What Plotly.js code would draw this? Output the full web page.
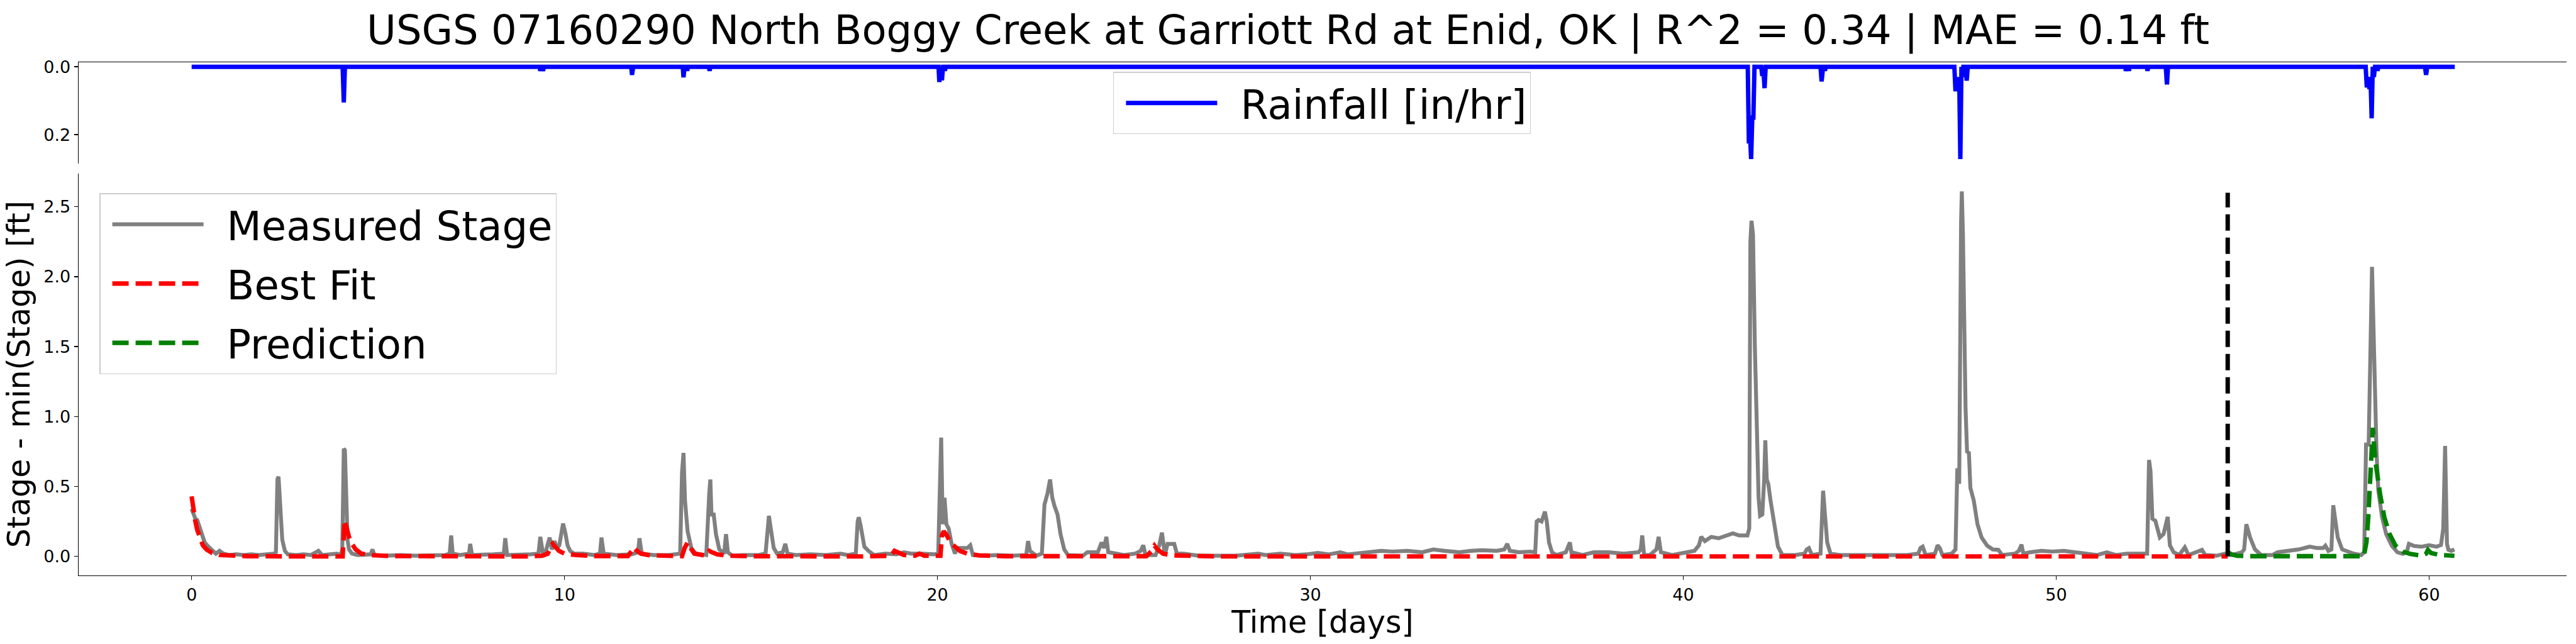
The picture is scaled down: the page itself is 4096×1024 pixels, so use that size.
<!DOCTYPE html>
<html>
<head>
<meta charset="utf-8">
<script src="https://cdn.plot.ly/plotly-3.0.1.min.js"></script>
<style>
html,body{margin:0;padding:0;background:#fff;}
#chart{width:4096px;height:1024px;}
</style>
</head>
<body>
<div id="chart"></div>
<script>
// ---- Data ----
const titleText = "USGS 07160290 North Boggy Creek at Garriott Rd at Enid, OK | R^2 = 0.34 | MAE = 0.14 ft";
const seriesNames = ["Measured Stage", "Best Fit", "Prediction"];
const rainName = "Rainfall [in/hr]";

// Measured stage (days, ft above minimum)
const stageT = [0.00,0.05,0.10,0.15,0.20,0.27,0.35,0.45,0.55,0.65,0.75,0.85,1.0,1.2,1.4,1.6,1.8,2.0,2.2,2.26,2.30,2.33,2.38,2.43,2.50,2.58,2.8,3.0,3.2,3.4,3.5,3.7,3.9,4.00,4.04,4.08,4.11,4.15,4.18,4.22,4.30,4.45,4.6,4.80,4.85,4.90,5.2,5.6,6.0,6.4,6.8,6.92,6.96,7.00,7.2,7.44,7.47,7.52,7.8,8.1,8.37,8.41,8.46,8.8,9.1,9.30,9.35,9.42,9.50,9.60,9.66,9.73,9.80,9.86,9.92,9.96,10.02,10.08,10.15,10.25,10.5,10.8,10.95,10.99,11.05,11.4,11.8,11.97,12.01,12.07,12.4,12.8,13.10,13.15,13.19,13.23,13.30,13.40,13.52,13.80,13.88,13.91,13.94,14.00,14.06,14.15,14.28,14.33,14.38,14.5,14.8,15.0,15.2,15.39,15.44,15.48,15.53,15.61,15.70,15.85,15.92,15.98,16.2,16.6,17.0,17.4,17.6,17.81,17.86,17.89,17.94,18.04,18.15,18.30,18.6,18.9,19.1,19.3,19.6,19.9,20.02,20.08,20.10,20.14,20.19,20.24,20.30,20.38,20.47,20.52,20.80,20.88,20.95,21.2,21.6,22.0,22.38,22.43,22.48,22.65,22.80,22.87,22.95,23.02,23.08,23.14,23.22,23.30,23.40,23.50,23.90,24.02,24.30,24.40,24.47,24.53,24.58,24.8,25.0,25.30,25.45,25.52,25.58,25.85,25.95,26.02,26.06,26.10,26.17,26.35,26.42,26.6,27.0,28.0,28.6,28.8,29.2,29.6,29.9,30.2,30.5,30.8,31.0,31.5,31.9,32.2,32.6,33.0,33.3,33.6,34.0,34.3,34.6,35.0,35.2,35.28,35.35,35.6,35.9,36.03,36.07,36.12,36.20,36.29,36.34,36.40,36.48,36.6,36.85,36.96,37.00,37.3,37.6,38.0,38.4,38.8,38.86,38.90,38.95,39.1,39.28,39.34,39.40,39.7,40.0,40.3,40.42,40.48,40.58,40.75,40.95,41.15,41.33,41.50,41.72,41.77,41.80,41.83,41.87,41.92,41.97,42.02,42.06,42.12,42.17,42.20,42.24,42.28,42.34,42.40,42.46,42.54,42.66,43.0,43.25,43.31,43.37,43.45,43.68,43.72,43.75,43.80,43.86,43.95,44.2,44.6,45.0,45.5,46.0,46.30,46.36,46.42,46.50,46.75,46.82,46.88,46.95,47.2,47.30,47.35,47.40,47.45,47.47,47.50,47.52,47.57,47.61,47.66,47.70,47.79,47.89,48.00,48.15,48.30,48.45,48.55,48.9,49.00,49.07,49.12,49.3,49.6,49.9,50.2,50.5,50.8,51.1,51.36,51.6,51.9,52.2,52.44,52.49,52.53,52.58,52.66,52.78,52.88,52.99,53.05,53.15,53.3,53.45,53.55,53.91,54.0,54.3,54.52,54.7,54.98,55.04,55.10,55.20,55.33,55.5,55.8,55.94,56.2,56.5,56.8,57.0,57.16,57.22,57.30,57.38,57.43,57.55,57.67,57.98,58.18,58.26,58.31,58.38,58.47,58.54,58.59,58.64,58.74,58.85,59.00,59.15,59.30,59.40,59.46,59.60,59.80,60.00,60.20,60.32,60.38,60.43,60.46,60.48,60.52,60.60,60.68];
const stageV = [0.34,0.30,0.27,0.26,0.22,0.15,0.10,0.07,0.04,0.02,0.04,0.02,0.01,0.015,0.01,0.015,0.01,0.015,0.02,0.03,0.55,0.57,0.35,0.12,0.04,0.015,0.01,0.015,0.01,0.04,0.01,0.015,0.02,0.01,0.05,0.77,0.76,0.40,0.12,0.05,0.02,0.01,0.01,0.015,0.05,0.01,0.005,0.01,0.005,0.01,0.01,0.02,0.15,0.02,0.01,0.02,0.09,0.01,0.01,0.015,0.02,0.13,0.01,0.01,0.015,0.02,0.14,0.02,0.04,0.135,0.05,0.11,0.06,0.08,0.20,0.235,0.17,0.08,0.04,0.02,0.02,0.01,0.02,0.135,0.02,0.01,0.015,0.03,0.13,0.02,0.01,0.01,0.02,0.60,0.74,0.40,0.18,0.06,0.02,0.01,0.45,0.55,0.30,0.30,0.16,0.05,0.02,0.16,0.03,0.005,0.01,0.01,0.01,0.02,0.22,0.29,0.20,0.06,0.02,0.03,0.09,0.02,0.01,0.015,0.01,0.02,0.01,0.02,0.25,0.28,0.22,0.07,0.04,0.01,0.02,0.015,0.03,0.02,0.02,0.015,0.02,0.80,0.85,0.23,0.42,0.23,0.20,0.09,0.02,0.06,0.06,0.08,0.01,0.005,0.01,0.005,0.01,0.11,0.04,0.005,0.02,0.37,0.45,0.55,0.42,0.36,0.30,0.16,0.05,0.01,0.005,0.03,0.03,0.10,0.06,0.14,0.03,0.02,0.01,0.02,0.04,0.08,0.01,0.01,0.08,0.17,0.10,0.01,0.09,0.09,0.02,0.02,0.005,0.005,0.02,0.01,0.02,0.01,0.015,0.025,0.015,0.03,0.015,0.03,0.04,0.035,0.04,0.03,0.05,0.04,0.03,0.04,0.045,0.04,0.05,0.09,0.04,0.03,0.035,0.03,0.25,0.26,0.25,0.32,0.25,0.10,0.03,0.01,0.03,0.10,0.03,0.01,0.03,0.03,0.02,0.03,0.05,0.15,0.01,0.01,0.05,0.14,0.03,0.01,0.025,0.04,0.08,0.14,0.11,0.14,0.13,0.15,0.165,0.15,0.15,0.20,2.25,2.40,2.30,1.50,0.90,0.42,0.29,0.30,0.55,0.83,0.55,0.52,0.40,0.30,0.18,0.07,0.01,0.01,0.02,0.05,0.06,0.01,0.02,0.35,0.47,0.30,0.10,0.02,0.01,0.01,0.01,0.015,0.01,0.02,0.06,0.07,0.01,0.02,0.08,0.06,0.01,0.02,0.05,0.63,0.52,2.40,2.61,2.30,1.89,1.06,0.75,0.74,0.49,0.40,0.23,0.136,0.077,0.05,0.047,0.01,0.02,0.04,0.085,0.02,0.03,0.04,0.035,0.04,0.03,0.02,0.01,0.03,0.01,0.02,0.02,0.02,0.69,0.61,0.27,0.255,0.136,0.16,0.283,0.08,0.03,0.01,0.065,0.01,0.047,0.01,0.005,0.02,0.01,0.03,0.05,0.23,0.136,0.05,0.01,0.01,0.03,0.04,0.05,0.07,0.06,0.06,0.077,0.04,0.05,0.366,0.136,0.05,0.02,0.01,0.03,0.80,0.80,2.07,1.18,0.75,0.47,0.28,0.16,0.077,0.03,0.018,0.03,0.09,0.075,0.07,0.08,0.07,0.082,0.20,0.79,0.35,0.09,0.047,0.04,0.05];

// Best-fit model (calibration period)
const fitT = [0.00,0.05,0.10,0.15,0.22,0.30,0.40,0.55,0.75,1.0,1.5,2.0,3.0,4.05,4.10,4.15,4.22,4.30,4.40,4.55,4.8,5.3,6.0,9.0,9.40,9.55,9.68,9.76,9.85,10.0,10.3,10.8,11.7,11.80,11.85,11.92,12.05,12.3,12.8,13.15,13.22,13.30,13.38,13.48,13.80,13.88,13.95,14.1,14.4,15.0,18.0,18.75,18.85,18.95,19.1,19.4,19.52,19.65,20.08,20.12,20.17,20.25,20.35,20.47,20.60,20.80,21.1,21.8,25.6,25.75,25.82,25.90,26.05,26.3,26.8,27.5,54.6];
const fitV = [0.43,0.32,0.25,0.19,0.13,0.08,0.05,0.025,0.01,0.005,0.002,0.001,0.0,0.0,0.26,0.20,0.14,0.09,0.05,0.02,0.01,0.003,0.001,0.0,0.005,0.02,0.09,0.07,0.04,0.02,0.01,0.003,0.003,0.04,0.065,0.045,0.02,0.008,0.003,0.002,0.06,0.10,0.06,0.02,0.005,0.04,0.03,0.015,0.005,0.002,0.0,0.005,0.04,0.03,0.01,0.005,0.02,0.005,0.005,0.15,0.18,0.15,0.10,0.07,0.04,0.02,0.008,0.002,0.002,0.04,0.077,0.05,0.02,0.008,0.002,0.0,0.0];

// Prediction (validation period)
const predT = [54.60,54.70,54.85,55.2,58.25,58.32,58.37,58.43,58.49,58.55,58.60,58.69,58.80,58.94,59.10,59.30,59.50,59.81,59.92,59.97,60.05,60.25,60.68];
const predV = [0.03,0.015,0.005,0.002,0.002,0.10,0.28,0.70,0.92,0.70,0.585,0.44,0.28,0.16,0.077,0.035,0.018,0.005,0.02,0.047,0.025,0.012,0.005];

// Calibration / prediction split marker
const splitT = [54.6, 54.6];
const splitV = [0.0, 2.6];

// Rainfall (days, in/hr)
const rainT = [0.0,4.05,4.08,4.11,9.33,9.35,9.38,9.40,9.42,9.45,11.79,11.81,11.84,13.17,13.19,13.22,13.27,13.29,13.31,13.87,13.89,13.91,20.03,20.05,20.09,20.12,20.15,20.18,20.20,20.22,41.73,41.76,41.79,41.82,41.85,41.88,41.91,42.09,42.12,42.15,42.18,42.21,43.68,43.71,43.75,43.78,43.80,43.82,47.27,47.30,47.34,47.37,47.40,47.43,47.46,47.48,47.51,47.57,47.60,47.63,51.85,51.87,51.90,51.93,51.95,51.97,52.43,52.45,52.47,52.94,52.97,53.00,58.30,58.33,58.37,58.40,58.43,58.46,58.49,58.52,58.55,58.60,58.62,58.64,59.89,59.92,59.95,60.69];
const rainV = [0,0,0.105,0,0,0.012,0,0,0.012,0,0,0.024,0,0,0.031,0,0,0.012,0,0,0.012,0,0,0.045,0,0.04,0,0,0.012,0,0,0.226,0.20,0.272,0.15,0.15,0,0,0.027,0.01,0.063,0,0,0.043,0,0,0.012,0,0,0.072,0.04,0.072,0.03,0.272,0,0.03,0,0,0.041,0,0,0.012,0,0,0.012,0,0,0.012,0,0,0.052,0,0,0.061,0.03,0.066,0.03,0.152,0,0.03,0,0,0.012,0,0,0.024,0,0];

// Axis ticks
const xTicks = [0, 10, 20, 30, 40, 50, 60];
const yTicks = [0.0, 0.5, 1.0, 1.5, 2.0, 2.5];
const rainTicks = [0.0, 0.2];

// ---- Styling ----
const FONT = "DejaVu Sans";
const tickFont = {family: FONT, size: 27, color: "#000"};
const legendFont = {family: FONT, size: 64, color: "#000"};
const dash = "26px,11px";
const lead = "\u2002"; // spacing between legend handle and label

const traces = [
  {x: rainT, y: rainV, xaxis: "x2", yaxis: "y2", type: "scatter", mode: "lines",
   name: lead + rainName, line: {color: "#0000ff", width: 7}, legend: "legend2"},
  {x: stageT, y: stageV, xaxis: "x", yaxis: "y", type: "scatter", mode: "lines",
   name: lead + seriesNames[0], line: {color: "#808080", width: 6.2}, legendgroup: "a", legend: "legend"},
  {x: fitT, y: fitV, xaxis: "x", yaxis: "y", type: "scatter", mode: "lines",
   name: lead + seriesNames[1], line: {color: "#ff0000", width: 7.1, dash: dash}, legendgroup: "b", legend: "legend"},
  {x: predT, y: predV, xaxis: "x", yaxis: "y", type: "scatter", mode: "lines",
   name: lead + seriesNames[2], line: {color: "#008000", width: 7.1, dash: dash}, legendgroup: "c", legend: "legend"},
  {x: splitT, y: splitV, xaxis: "x", yaxis: "y", type: "scatter", mode: "lines",
   showlegend: false, line: {color: "#000000", width: 7, dash: dash}}
];

const layout = {
  width: 4096, height: 1024,
  paper_bgcolor: "#ffffff", plot_bgcolor: "#ffffff",
  margin: {l: 125, r: 15, t: 99, b: 109, pad: 0, autoexpand: false},
  font: {family: FONT, color: "#000"},
  title: {text: titleText, font: {family: FONT, size: 64, color: "#000"},
          x: 0.5, xref: "container", xanchor: "center",
          y: 1 - 47.3/1024, yref: "container", yanchor: "middle"},
  xaxis: {domain: [0, 1], anchor: "y", range: [-3.031, 63.687],
          tickvals: xTicks, ticktext: xTicks.map(String), ticks: "outside", ticklen: 6, tickwidth: 1.4,
          tickcolor: "#000", tickfont: tickFont, showline: true, linecolor: "#000", linewidth: 1.4,
          showgrid: false, zeroline: false, automargin: false,
          title: {text: "Time [days]", font: {family: FONT, size: 49, color: "#000"}, standoff: 6}},
  yaxis: {domain: [0, 0.7837], anchor: "x", range: [-0.1358, 2.7394],
          tickvals: yTicks, ticktext: yTicks.map(v => v.toFixed(1)), ticks: "outside", ticklen: 6, tickwidth: 1.4,
          tickcolor: "#000", tickfont: tickFont, showline: true, linecolor: "#000", linewidth: 1.4,
          showgrid: false, zeroline: false, automargin: false,
          title: {text: "Stage - min(Stage) [ft]", font: {family: FONT, size: 49, color: "#000"}, standoff: 6}},
  xaxis2: {domain: [0, 1], anchor: "y2", range: [-3.031, 63.687], side: "top",
           showticklabels: false, ticks: "", showline: true, linecolor: "#000", linewidth: 1.4,
           showgrid: false, zeroline: false, automargin: false},
  yaxis2: {domain: [0.8032, 1], anchor: "x2", range: [0.2844, -0.0133],
           tickvals: rainTicks, ticktext: rainTicks.map(v => v.toFixed(1)), ticks: "outside", ticklen: 6, tickwidth: 1.4,
           tickcolor: "#000", tickfont: tickFont, showline: true, linecolor: "#000", linewidth: 1.4,
           showgrid: false, zeroline: false, automargin: false},
  legend: {x: 0.00839, y: 0.74485, xanchor: "left", yanchor: "top", xref: "paper", yref: "paper",
           bgcolor: "rgba(255,255,255,0.8)", bordercolor: "#cccccc", borderwidth: 1.4,
           font: legendFont, traceorder: "grouped", tracegroupgap: 8,
           itemwidth: 145, indentation: 14},
  legend2: {x: 0.49975, y: 0.98137, xanchor: "center", yanchor: "top", xref: "paper", yref: "paper",
            bgcolor: "rgba(255,255,255,0.8)", bordercolor: "#cccccc", borderwidth: 1.4,
            font: legendFont, itemwidth: 145, indentation: 14},
  showlegend: true
};

Plotly.newPlot("chart", traces, layout, {displayModeBar: false, staticPlot: true});
</script>
</body>
</html>
